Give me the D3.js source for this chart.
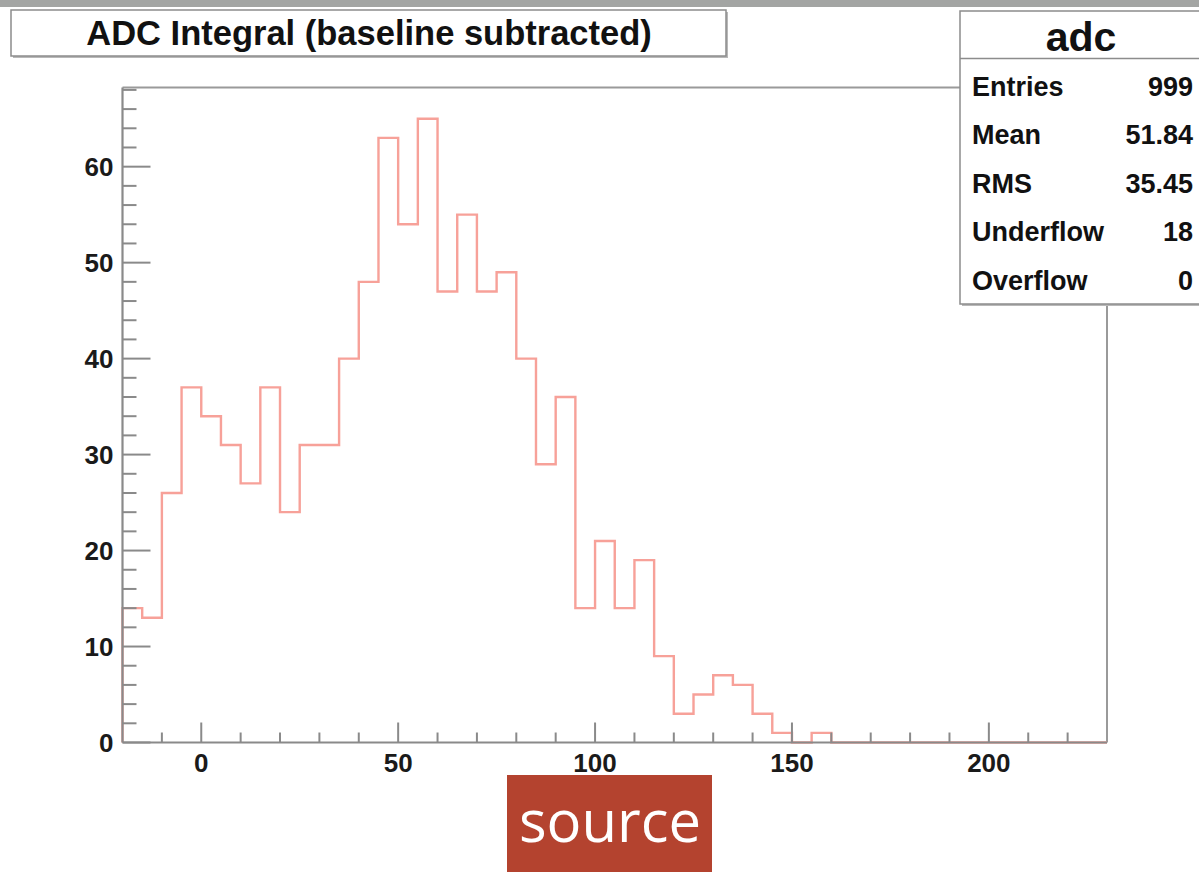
<!DOCTYPE html>
<html>
<head>
<meta charset="utf-8">
<script src="https://cdn.jsdelivr.net/npm/d3@7"></script>
<style>
  html, body { margin: 0; padding: 0; background: #ffffff; }
  svg { display: block; }
</style>
</head>
<body>
<svg id="chart" width="1199" height="872"></svg>
<script>
// ---- data ----
const binEdgesStart = -20;
const binWidth = 5;
const counts = [14, 13, 26, 37, 34, 31, 27, 37, 24, 31, 31, 40, 48, 63, 54, 65, 47, 55, 47, 49,
                40, 29, 36, 14, 21, 14, 19, 9, 3, 5, 7, 6, 3, 1, 0, 1, 0, 0, 0, 0,
                0, 0, 0, 0, 0, 0, 0, 0, 0, 0];
const xDomain = [-20, 230];
const yDomain = [0, 68.25];
const xMajorTicks = [0, 50, 100, 150, 200];
const yMajorTicks = [0, 10, 20, 30, 40, 50, 60];
const titleText = "ADC Integral (baseline subtracted)";
const statsName = "adc";
const statsLabels = ["Entries", "Mean", "RMS", "Underflow", "Overflow"];
const statsValues = ["999", "51.84", "35.45", "18", "0"];
const sourceLabel = "source";

// ---- layout ----
const svg = d3.select("#chart");
const frame = { left: 122.5, right: 1107, top: 87.5, bottom: 742.5 };
const x = d3.scaleLinear().domain(xDomain).range([frame.left, frame.right]);
const y = d3.scaleLinear().domain(yDomain).range([frame.bottom, frame.top]);
const axisColor = "#8a8a8a";
const font = "'Liberation Sans', Arial, Helvetica, sans-serif";

// top gray noisy band
svg.append("rect").attr("x", 0).attr("y", 0).attr("width", 1199).attr("height", 7).attr("fill", "#a3a5a3");

// frame (top & right lighter)
svg.append("line").attr("x1", frame.left).attr("x2", frame.right).attr("y1", frame.top).attr("y2", frame.top)
  .attr("stroke", "#9a9a9a").attr("stroke-width", 2);
svg.append("line").attr("x1", frame.right).attr("x2", frame.right).attr("y1", frame.top).attr("y2", frame.bottom)
  .attr("stroke", "#9a9a9a").attr("stroke-width", 2);

// histogram
const pts = [[xDomain[0], 0]];
counts.forEach((c, i) => pts.push([binEdgesStart + i * binWidth, c]));
pts.push([binEdgesStart + counts.length * binWidth, 0]);
const line = d3.line().x(d => x(d[0])).y(d => y(d[1])).curve(d3.curveStepAfter);
svg.append("path").datum(pts).attr("d", line)
  .attr("fill", "none").attr("stroke", "#f7a199").attr("stroke-width", 2.4)
  .attr("stroke-linejoin", "miter");

// y axis ticks
const yAxisG = svg.append("g").attr("transform", `translate(${frame.left},0)`);
const yMinor = d3.range(0, 68.25, 2);
yAxisG.selectAll("line.ymin").data(yMinor).enter().append("line")
  .attr("x1", 0).attr("x2", d => (d % 10 === 0 ? 28 : 14))
  .attr("y1", d => y(d)).attr("y2", d => y(d))
  .attr("stroke", axisColor).attr("stroke-width", 2);
yAxisG.selectAll("text").data(yMajorTicks).enter().append("text")
  .attr("x", -9).attr("y", d => y(d)).attr("dy", "0.36em")
  .attr("text-anchor", "end").attr("font-family", font).attr("font-weight", "bold")
  .attr("font-size", 26).attr("fill", "#1a1a1a").text(d => d);
yAxisG.append("line").attr("x1", 0).attr("x2", 0).attr("y1", frame.top).attr("y2", frame.bottom)
  .attr("stroke", axisColor).attr("stroke-width", 2.2);

// x axis ticks
const xAxisG = svg.append("g").attr("transform", `translate(0,${frame.bottom})`);
const xMinor = d3.range(-10, 230, 10);
xAxisG.selectAll("line.xmin").data(xMinor).enter().append("line")
  .attr("x1", d => x(d)).attr("x2", d => x(d))
  .attr("y1", 0).attr("y2", d => (d % 50 === 0 ? -20 : -10))
  .attr("stroke", axisColor).attr("stroke-width", 2);
xAxisG.selectAll("text").data(xMajorTicks).enter().append("text")
  .attr("x", d => x(d)).attr("y", 20).attr("dy", "0.36em")
  .attr("text-anchor", "middle").attr("font-family", font).attr("font-weight", "bold")
  .attr("font-size", 26).attr("fill", "#1a1a1a").text(d => d);
xAxisG.append("line").attr("x1", frame.left).attr("x2", frame.right).attr("y1", 0).attr("y2", 0)
  .attr("stroke", axisColor).attr("stroke-width", 2.2);

// title box
svg.append("rect").attr("x", 13).attr("y", 12).attr("width", 715).attr("height", 46).attr("fill", "#b8b8b8");
svg.append("rect").attr("x", 11).attr("y", 10).attr("width", 715).attr("height", 46)
  .attr("fill", "#ffffff").attr("stroke", "#8c8c8c").attr("stroke-width", 1.5);
svg.append("text").attr("x", 369).attr("y", 33).attr("dy", "0.36em")
  .attr("text-anchor", "middle").attr("font-family", font).attr("font-weight", "bold")
  .attr("font-size", 34.5).attr("fill", "#111").text(titleText);

// stats box
const sb = { x: 960, y: 11, w: 260, h: 293 };
svg.append("rect").attr("x", sb.x + 2).attr("y", sb.y + 2).attr("width", sb.w).attr("height", sb.h).attr("fill", "#b8b8b8");
svg.append("rect").attr("x", sb.x).attr("y", sb.y).attr("width", sb.w).attr("height", sb.h)
  .attr("fill", "#ffffff").attr("stroke", "#8c8c8c").attr("stroke-width", 1.5);
svg.append("line").attr("x1", sb.x).attr("x2", 1199).attr("y1", 58.5).attr("y2", 58.5)
  .attr("stroke", "#8c8c8c").attr("stroke-width", 1.5);
svg.append("text").attr("x", 1081).attr("y", 36).attr("dy", "0.36em")
  .attr("text-anchor", "middle").attr("font-family", font).attr("font-weight", "bold")
  .attr("font-size", 41).attr("fill", "#111").text(statsName);
const rowY = d3.scaleLinear().domain([0, 4]).range([86, 280]);
svg.selectAll("text.slab").data(statsLabels).enter().append("text")
  .attr("x", 972).attr("y", (d, i) => rowY(i)).attr("dy", "0.36em")
  .attr("font-family", font).attr("font-weight", "bold").attr("font-size", 27)
  .attr("fill", "#111").text(d => d);
svg.selectAll("text.sval").data(statsValues).enter().append("text")
  .attr("x", 1193).attr("y", (d, i) => rowY(i)).attr("dy", "0.36em").attr("text-anchor", "end")
  .attr("font-family", font).attr("font-weight", "bold").attr("font-size", 27)
  .attr("fill", "#111").text(d => d);

// source label
svg.append("rect").attr("x", 507).attr("y", 775).attr("width", 205).attr("height", 97).attr("fill", "#b4432f");
svg.append("text").attr("x", 610).attr("y", 842).attr("text-anchor", "middle")
  .attr("font-family", "'Open Sans', sans-serif").attr("font-size", 58).attr("fill", "#ffffff").text(sourceLabel);
</script>
</body>
</html>
